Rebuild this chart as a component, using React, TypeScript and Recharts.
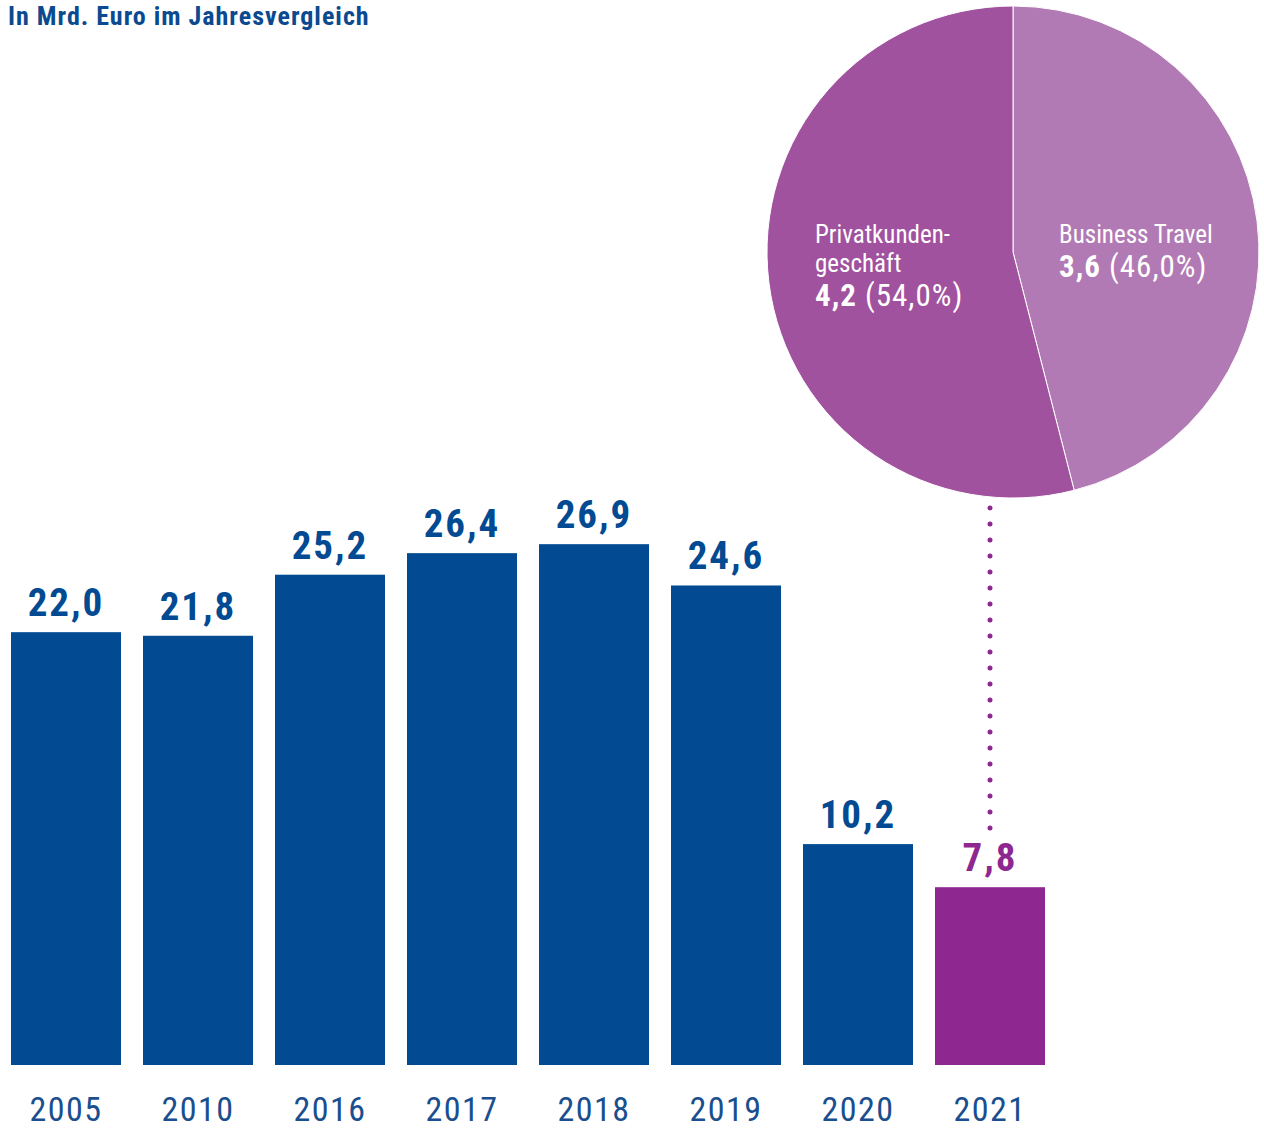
import React from 'react';
import { BarChart, Bar, XAxis, YAxis, Cell, LabelList, ReferenceLine, PieChart, Pie } from 'recharts';

const years = ['2005', '2010', '2016', '2017', '2018', '2019', '2020', '2021'];
const values = [22.0, 21.8, 25.2, 26.4, 26.9, 24.6, 10.2, 7.8];
const valueLabels = ['22,0', '21,8', '25,2', '26,4', '26,9', '24,6', '10,2', '7,8'];
const highlightYear = '2021';

const segNames = ['Business Travel', 'Privatkunden-geschäft'];
const segValues = [3.6, 4.2];
const segShares = [46.0, 54.0];
const segValueLabels = ['3,6', '4,2'];
const segShareLabels = ['(46,0%)', '(54,0%)'];

const connectorRange = [11.1, 28.95];

const BLUE = '#024a91';
const PURPLE = '#8e278f';
const PIE_COLORS = ['#b27ab4', '#a0529f'];
const FONT = '"Liberation Sans Narrow", "Roboto Condensed", "DejaVu Sans Condensed", "Liberation Sans", sans-serif';

const barData = years.map((y, i) => ({ year: y, value: values[i], label: valueLabels[i] }));
const pieData = segNames.map((n, i) => ({ name: n, share: segShares[i], value: segValues[i], vl: segValueLabels[i], sl: segShareLabels[i] }));

const BarShape = (props: any) => {
  const { x, y, width, height, fill, background } = props;
  const bottom = background ? background.y + background.height : y + height;
  return <rect x={x} y={y} width={width} height={Math.max(0, bottom - y)} fill={fill} />;
};

const ValueLabel = (props: any) => {
  const { x, y, width, index } = props;
  const color = years[index] === highlightYear ? PURPLE : BLUE;
  return (
    <text x={x + width / 2} y={y - 16} textAnchor="middle" fill={color} fontFamily={FONT} fontWeight="bold" fontSize={39} letterSpacing={2}>
      {valueLabels[index]}
    </text>
  );
};

const YearTick = (props: any) => {
  const { x, y, payload } = props;
  return (
    <text x={x} y={y} dy={56} textAnchor="middle" fill="#1a4f8f" fontFamily={FONT} fontSize={34} letterSpacing={1.5}>
      {payload.value}
    </text>
  );
};

const PieLabel = (props: any) => {
  const { cx, cy, outerRadius, index } = props;
  const r = outerRadius;
  const d = pieData[index];
  if (index === 0) {
    const lx = cx + r * 0.187;
    return (
      <g fill="#ffffff" fontFamily={FONT}>
        <text x={lx} y={cy - 9} fontSize={25}>Business Travel</text>
        <text x={lx} y={cy + 25} fontSize={31} letterSpacing={1}>
          <tspan fontWeight="bold">{d.vl}</tspan> {d.sl}
        </text>
      </g>
    );
  }
  const lx = cx - r * 0.805;
  return (
    <g fill="#ffffff" fontFamily={FONT}>
      <text x={lx} y={cy - 9} fontSize={25}>Privatkunden-</text>
      <text x={lx} y={cy + 20} fontSize={25}>geschäft</text>
      <text x={lx} y={cy + 54} fontSize={31} letterSpacing={1}>
        <tspan fontWeight="bold">{d.vl}</tspan> {d.sl}
      </text>
    </g>
  );
};

export default function App() {
  return (
    <div style={{ position: 'absolute', left: 0, top: 0, width: 1264, height: 1128, background: '#fff', overflow: 'hidden' }}>
      <div style={{ position: 'absolute', left: 8, top: 1, fontFamily: FONT, fontWeight: 'bold', fontSize: 26, letterSpacing: 1, lineHeight: '30px', color: '#0b4a90', whiteSpace: 'nowrap' }}>
        In Mrd. Euro im Jahresvergleich
      </div>
      <div style={{ position: 'absolute', left: 0, top: 0 }}>
        <BarChart width={1264} height={1128} data={barData} margin={{ top: 0, right: 208, bottom: 0, left: 0 }} barSize={110}>
          <XAxis dataKey="year" axisLine={false} tickLine={false} tickSize={0} tickMargin={0} height={63} interval={0} tick={<YearTick />} />
          <YAxis hide type="number" domain={[-2.1, 57.2]} allowDataOverflow />
          <ReferenceLine
            segment={[{ x: highlightYear, y: connectorRange[0] }, { x: highlightYear, y: connectorRange[1] }]}
            stroke={PURPLE}
            strokeWidth={5}
            strokeDasharray="0 16"
            strokeLinecap="round"
            ifOverflow="visible"
          />
          <Bar dataKey="value" isAnimationActive={false} shape={<BarShape />}>
            {barData.map((d) => (
              <Cell key={d.year} fill={d.year === highlightYear ? PURPLE : BLUE} />
            ))}
            <LabelList dataKey="label" content={<ValueLabel />} />
          </Bar>
        </BarChart>
      </div>
      <div style={{ position: 'absolute', left: 0, top: 0, pointerEvents: 'none' }}>
        <PieChart width={1264} height={1128} margin={{ top: 0, right: 0, bottom: 0, left: 0 }}>
          <Pie
            data={pieData}
            dataKey="share"
            nameKey="name"
            cx={1013}
            cy={252}
            outerRadius={246}
            innerRadius={0}
            startAngle={90}
            endAngle={-270}
            stroke="#ffffff"
            strokeWidth={1}
            label={PieLabel}
            labelLine={false}
            isAnimationActive={false}
          >
            {pieData.map((d, i) => (
              <Cell key={d.name} fill={PIE_COLORS[i]} />
            ))}
          </Pie>
        </PieChart>
      </div>
    </div>
  );
}
